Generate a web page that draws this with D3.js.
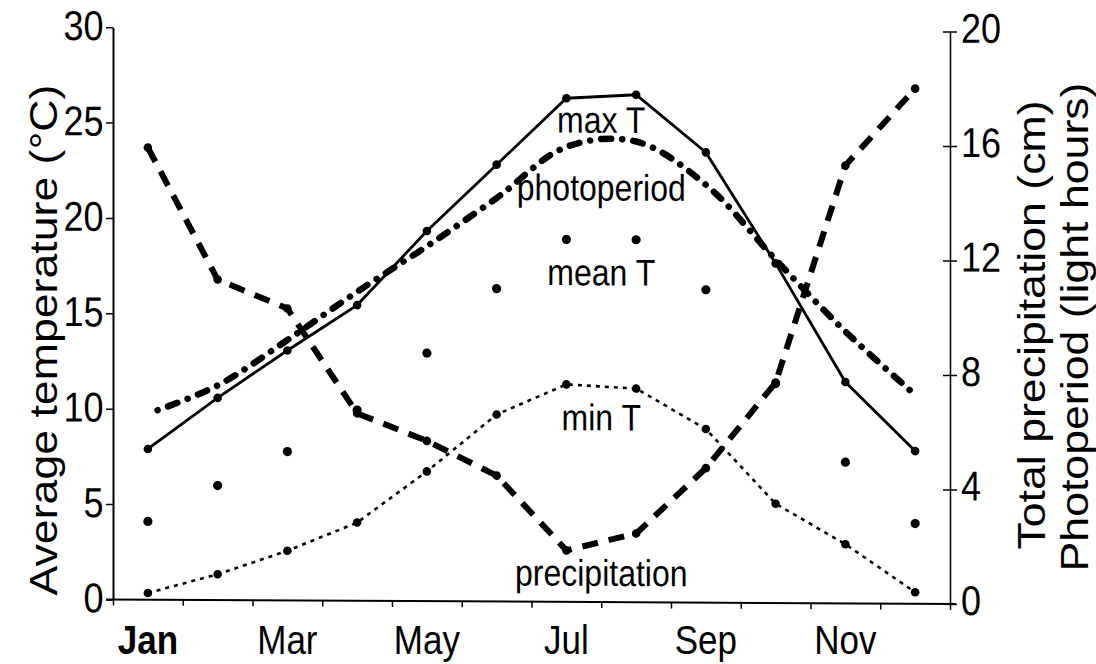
<!DOCTYPE html>
<html>
<head>
<meta charset="utf-8">
<script src="https://cdn.jsdelivr.net/npm/d3@7"></script>
<style>
  html, body { margin: 0; padding: 0; background: #fff; }
  svg { display: block; }
  text { font-family: "Liberation Sans", Arial, sans-serif; fill: #000; }
</style>
</head>
<body>
<svg id="chart" width="1096" height="664"></svg>
<script>
// ---- data ----
const months = ["Jan","Feb","Mar","Apr","May","Jun","Jul","Aug","Sep","Oct","Nov","Dec"];
const monthLabels = ["Jan","Mar","May","Jul","Sep","Nov"];
const maxT   = [7.9, 10.6, 13.1, 15.5, 19.4, 22.9, 26.4, 26.6, 23.6, 17.8, 11.6, 8.0];
const meanT  = [4.1, 6.0, 7.8, 10.0, 13.0, 16.4, 19.0, 19.0, 16.4, 11.5, 7.4, 4.2];
const minT   = [0.35, 1.35, 2.6, 4.1, 6.8, 9.8, 11.4, 11.2, 9.1, 5.2, 3.1, 0.6];
const precip = [15.8, 11.2, 10.2, 6.55, 5.6, 4.4, 1.8, 2.4, 4.7, 7.7, 15.3, 18.0];
const photo  = [6.5, 7.5, 9.1, 10.8, 12.4, 14.1, 15.9, 16.1, 14.6, 12.0, 9.5, 7.3];
const leftTicks  = [0, 5, 10, 15, 20, 25, 30];
const rightTicks = [0, 4, 8, 12, 16, 20];
const leftTitle = "Average temperature (°C)";
const rightTitle1 = "Total precipitation (cm)";
const rightTitle2 = "Photoperiod (light hours)";

// ---- layout ----
const X0 = 113, X1 = 950, Y0 = 598.9, Y1 = 26.6;
const SY = 1.16; // vertical stretch of the scanned lettering
const svg = d3.select("#chart");
const g = svg.append("g").attr("transform", "skewY(0.3)");

const xBand = d3.scaleBand().domain(months).range([X0, X1]).padding(0);
const xc = m => xBand(m) + xBand.bandwidth() / 2;
const xLin = d3.scaleLinear().domain([0, 12]).range([X0, X1]);
const yL = d3.scaleLinear().domain([0, 30]).range([Y0, Y1]);
const yR = d3.scaleLinear().domain([0, 20]).range([Y0, Y1]);

// ---- axes ----
// left
const axL = g.append("g").attr("transform", `translate(${X0},0)`)
  .call(d3.axisLeft(yL).tickValues(leftTicks).tickSize(7).tickSizeOuter(0));
axL.select(".domain").attr("stroke", "#000").attr("stroke-width", 2);
axL.selectAll(".tick line").attr("stroke", "#000").attr("stroke-width", 1.5);
axL.selectAll(".tick text")
  .attr("x", null).attr("dy", null).attr("y", null)
  .attr("text-anchor", "end")
  .attr("transform", `translate(-9.5,12.5) scale(1,${SY})`)
  .style("font-size", "36px");

// right
const axR = g.append("g").attr("transform", `translate(${X1},0)`)
  .call(d3.axisRight(yR).tickValues(rightTicks).tickSize(7).tickSizeOuter(0));
axR.select(".domain").attr("stroke", "#000").attr("stroke-width", 1.5);
axR.selectAll(".tick line").attr("x1", -7).attr("x2", 7).attr("stroke", "#000").attr("stroke-width", 1.5);
axR.selectAll(".tick text")
  .attr("x", null).attr("dy", null).attr("y", null)
  .attr("text-anchor", "start")
  .attr("transform", `translate(11,10.5) scale(1,${SY})`)
  .style("font-size", "36px");

// bottom (ticks at month boundaries)
const axB = g.append("g").attr("transform", `translate(0,${Y0})`)
  .call(d3.axisBottom(xLin).tickValues(d3.range(0, 13)).tickSize(6).tickFormat(""));
axB.select(".domain").attr("d", `M${X0 - 7},0H${X1 + 6}`).attr("stroke", "#000").attr("stroke-width", 2);
axB.selectAll(".tick line").attr("stroke", "#000").attr("stroke-width", 1.5);

// month labels (kept unskewed so descenders stay inside the frame)
const axM = svg.append("g").attr("transform", `translate(0,${Y0})`)
  .call(d3.axisBottom(xBand).tickValues(monthLabels).tickSize(0));
axM.select(".domain").remove();
axM.selectAll(".tick text")
  .attr("y", null).attr("dy", null)
  .attr("transform", `translate(0,55) scale(1,${SY})`)
  .style("font-size", "35px")
  .style("font-weight", d => d === "Jan" ? "bold" : "normal");

// ---- series ----
const lineL = d3.line().x((d, i) => xc(months[i])).y(d => yL(d));
const lineR = d3.line().x((d, i) => xc(months[i])).y(d => yR(d));
const lineRsmooth = d3.line().x((d, i) => xc(months[i])).y(d => yR(d)).curve(d3.curveCatmullRom.alpha(0.5));

// photoperiod (smooth dash-dot, no markers)
g.append("path").datum(photo).attr("d", lineRsmooth)
  .attr("fill", "none").attr("stroke", "#000").attr("stroke-width", 6.5)
  .attr("stroke-linecap", "round")
  .attr("stroke-dasharray", "10,11,0.1,11").attr("stroke-dashoffset", 10.5);

// precipitation (thick dashed)
g.append("path").datum(precip).attr("d", lineR)
  .attr("fill", "none").attr("stroke", "#000").attr("stroke-width", 6)
  .attr("stroke-dasharray", "16,11");
g.append("g").selectAll("circle").data(precip).join("circle")
  .attr("cx", (d, i) => xc(months[i])).attr("cy", d => yR(d)).attr("r", 4.3);

// max T (solid)
g.append("path").datum(maxT).attr("d", lineL)
  .attr("fill", "none").attr("stroke", "#000").attr("stroke-width", 2.8);
g.append("g").selectAll("circle").data(maxT).join("circle")
  .attr("cx", (d, i) => xc(months[i])).attr("cy", d => yL(d)).attr("r", 4.3);

// min T (fine dotted)
g.append("path").datum(minT).attr("d", lineL)
  .attr("fill", "none").attr("stroke", "#000").attr("stroke-width", 2.6)
  .attr("stroke-dasharray", "4,5");
g.append("g").selectAll("circle").data(minT).join("circle")
  .attr("cx", (d, i) => xc(months[i])).attr("cy", d => yL(d)).attr("r", 4.3);

// mean T (markers only)
g.append("g").selectAll("circle").data(meanT).join("circle")
  .attr("cx", (d, i) => xc(months[i])).attr("cy", d => yL(d)).attr("r", 4.6);

// ---- in-plot labels ----
const labX = (xc("Jul") + xc("Aug")) / 2;
const labels = [
  { t: "max T", v: 24.6 },
  { t: "photoperiod", v: 21.05 },
  { t: "mean T", v: 16.6 },
  { t: "min T", v: 9.0 },
  { t: "precipitation", v: 0.85 }
];
g.append("g").selectAll("text").data(labels).join("text")
  .attr("transform", d => `translate(${labX},${yL(d.v)}) scale(1,${SY})`)
  .attr("text-anchor", "middle").style("font-size", "32px")
  .text(d => d.t);

// ---- axis titles ----
const titles = [
  { t: leftTitle, x: 57, y: 340 },
  { t: rightTitle1, x: 1045, y: 325 },
  { t: rightTitle2, x: 1088, y: 327 }
];
svg.append("g").selectAll("text").data(titles).join("text")
  .attr("transform", d => `translate(${d.x},${d.y}) rotate(-90) scale(${SY},1)`)
  .attr("text-anchor", "middle").style("font-size", "38.5px")
  .text(d => d.t);
</script>
</body>
</html>
